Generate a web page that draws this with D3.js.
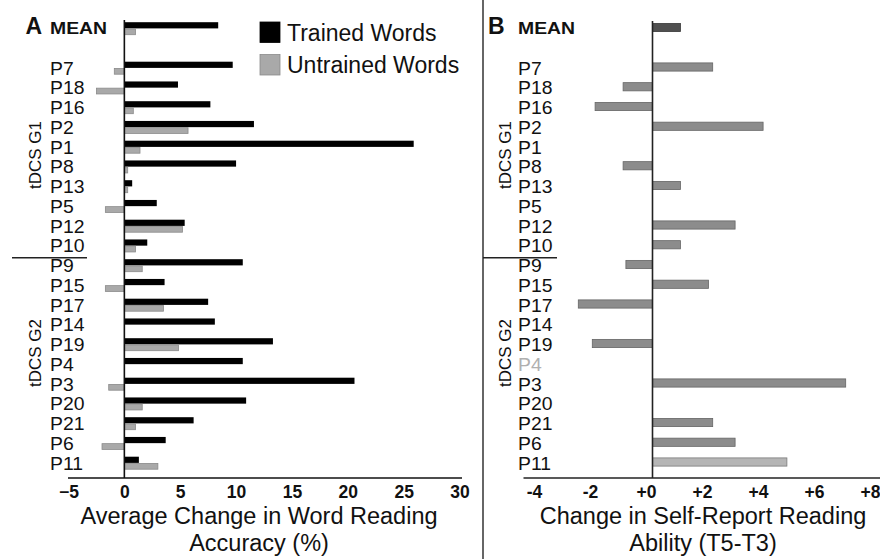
<!DOCTYPE html>
<html>
<head>
<meta charset="utf-8">
<script src="https://cdn.jsdelivr.net/npm/d3@7"></script>
<style>
  html, body { margin: 0; padding: 0; background: #fff; }
  svg { display: block; font-family: "Liberation Sans", Arial, sans-serif; }
</style>
</head>
<body>
<svg id="chart" width="880" height="559"></svg>
<script>
// ---------------- DATA ----------------
const participants = ["P7","P18","P16","P2","P1","P8","P13","P5","P12","P10",
                      "P9","P15","P17","P14","P19","P4","P3","P20","P21","P6","P11"];
const groups = [
  { name: "tDCS G1", anchor: "P1", offset: 14.5 },
  { name: "tDCS G2", anchor: "P19", offset: 15 }
];
const trainedWords   = [9.7, 4.8, 7.7, 11.6, 25.9, 10.0, 0.7, 2.9, 5.4, 2.05,
                        10.6, 3.6, 7.5, 8.1, 13.3, 10.6, 20.6, 10.9, 6.2, 3.7, 1.3];
const untrainedWords = [-0.9, -2.5, 0.8, 5.7, 1.4, 0.3, 0.3, -1.7, 5.2, 1.0,
                        1.6, -1.7, 3.5, 0, 4.85, 0, -1.4, 1.6, 1.0, -2.0, 3.0];
const meanTrained = 8.4;
const meanUntrained = 1.0;
const selfReport = [2.15, -1.05, -2.05, 3.95, 0, -1.05, 1.0, 0, 2.95, 1.0,
                    -0.95, 2.0, -2.65, 0, -2.15, null, 6.9, 0, 2.15, 2.95, 4.8];
const meanSelfReport = 1.0;
const missingSelfReport = ["P4"];
const ticksA = [-5, 0, 5, 10, 15, 20, 25, 30];
const ticksB = [-4, -2, 0, 2, 4, 6, 8];
const tickLabelsB = ["-4", "-2", "+0", "+2", "+4", "+6", "+8"];
const legendLabels = ["Trained Words", "Untrained Words"];
const titleA = ["Average Change in Word Reading", "Accuracy (%)"];
const titleB = ["Change in Self-Report Reading", "Ability (T5-T3)"];

// ---------------- LAYOUT ----------------
const svg = d3.select("#chart");
const rows = ["MEAN", "gap"].concat(participants);
const y = d3.scaleBand().domain(rows).range([22, 476.25]).paddingInner(0).paddingOuter(0);
const sub = d3.scaleBand().domain(["trained", "untrained"]).range([0.2, 13]);

const xA = d3.scaleLinear().domain([-5, 30]).range([68.5, 459.5]);
const xB = d3.scaleLinear().domain([-4, 8]).range([652.5 - 4 * 28.0, 652.5 + 8 * 28.0]);
const axisY = 478;

const BLACK = "#000000", GRAY = "#a9a9a9", GRAY_STROKE = "#8a8a8a";
const FONT_LBL = 17.6;
const LBL_STRETCH = 1.1;
const FONT_TICK = 17.5;
const FONT_TITLE = 23.5;

function rowLabels(g, x0, colorFn) {
  g.selectAll("text.lbl").data(participants).join("text")
    .attr("class", "lbl")
    .attr("transform", d => `translate(${x0},${y(d) + 7}) scale(${LBL_STRETCH},1)`)
    .attr("dominant-baseline", "central")
    .attr("font-size", FONT_LBL)
    .attr("fill", colorFn)
    .text(d => d);
}

// ---------------- PANEL A ----------------
const gA = svg.append("g");

const rowsA = participants.map((p, i) => ({ key: p, t: trainedWords[i], u: untrainedWords[i] }));
rowsA.unshift({ key: "MEAN", t: meanTrained, u: meanUntrained });

gA.selectAll("rect.t").data(rowsA).join("rect")
  .attr("class", "t")
  .attr("x", d => xA(Math.min(0, d.t)))
  .attr("width", d => Math.abs(xA(d.t) - xA(0)))
  .attr("y", d => y(d.key) + sub("trained"))
  .attr("height", sub.bandwidth() - 0.2)
  .attr("fill", BLACK);

gA.selectAll("rect.u").data(rowsA.filter(d => d.u !== 0)).join("rect")
  .attr("class", "u")
  .attr("x", d => xA(Math.min(0, d.u)))
  .attr("width", d => Math.abs(xA(d.u) - xA(0)))
  .attr("y", d => y(d.key) + sub("untrained") + 0.3)
  .attr("height", sub.bandwidth() - 0.6)
  .attr("fill", GRAY)
  .attr("stroke", GRAY_STROKE)
  .attr("stroke-width", 0.8);

gA.append("line")
  .attr("x1", xA(0)).attr("x2", xA(0))
  .attr("y1", y("MEAN") - 2).attr("y2", axisY)
  .attr("stroke", "#111").attr("stroke-width", 1.6);

const axA = gA.append("g").attr("transform", `translate(0,${axisY})`)
  .call(d3.axisBottom(xA).tickValues(ticksA).tickSize(0).tickPadding(8).tickFormat(d3.format("d")));
axA.select(".domain").attr("stroke", "#111").attr("stroke-width", 1.6)
  .attr("d", `M${xA.range()[0] - 0.5},0H${xA.range()[1] + 2.5}`);
axA.selectAll("text").attr("font-size", FONT_TICK).attr("font-weight", "bold")
  .attr("fill", "#111").attr("font-family", "Liberation Sans, Arial, sans-serif");

rowLabels(gA, 50, () => "#111");

gA.append("text").attr("x", 25.5).attr("y", 33.5).attr("font-size", 23).attr("font-weight", "bold")
  .attr("fill", "#111").text("A");
gA.append("text").attr("x", 50).attr("y", 33.5).attr("font-size", 16).attr("font-weight", "bold")
  .attr("fill", "#111").attr("textLength", 57).attr("lengthAdjust", "spacingAndGlyphs").text("MEAN");

groups.forEach(g => {
  const cy = y(g.anchor) + g.offset;
  gA.append("text")
    .attr("transform", `translate(35,${cy}) rotate(-90)`)
    .attr("text-anchor", "middle").attr("dominant-baseline", "central")
    .attr("font-size", 17).attr("fill", "#111").text(g.name);
});
gA.append("line").attr("x1", 12).attr("x2", 87)
  .attr("y1", y("P9") - 1.2).attr("y2", y("P9") - 1.2)
  .attr("stroke", "#222").attr("stroke-width", 1.4);

const leg = gA.append("g");
legendLabels.forEach((lab, i) => {
  leg.append("rect").attr("x", 260).attr("y", 22 + i * 32.5).attr("width", 20).attr("height", 20.5)
    .attr("fill", i === 0 ? BLACK : GRAY).attr("stroke", i === 0 ? BLACK : GRAY_STROKE).attr("stroke-width", 0.8);
  leg.append("text").attr("x", 287).attr("y", 32.5 + i * 32.5).attr("dominant-baseline", "central")
    .attr("font-size", 23).attr("fill", "#111").text(lab);
});

titleA.forEach((t, i) => {
  gA.append("text").attr("x", 259).attr("y", 524 + i * 26.5).attr("text-anchor", "middle")
    .attr("font-size", FONT_TITLE).attr("fill", "#111").text(t);
});

// ---------------- PANEL B ----------------
const gB = svg.append("g");

gB.append("line").attr("x1", 483).attr("x2", 483).attr("y1", 0).attr("y2", 559)
  .attr("stroke", "#333").attr("stroke-width", 1.5);

const rowsB = participants.map((p, i) => ({ key: p, v: selfReport[i], type: p === "P11" ? "light" : "normal" }));
rowsB.unshift({ key: "MEAN", v: meanSelfReport, type: "mean" });
const fillB = { mean: "#505050", normal: "#8c8c8c", light: "#b5b5b5" };
const strokeB = { mean: "#3a3a3a", normal: "#666666", light: "#7a7a7a" };

gB.selectAll("rect.b").data(rowsB.filter(d => d.v !== null && d.v !== 0)).join("rect")
  .attr("class", "b")
  .attr("x", d => xB(Math.min(0, d.v)))
  .attr("width", d => Math.abs(xB(d.v) - xB(0)))
  .attr("y", d => y(d.key) + 1.4)
  .attr("height", 8.2)
  .attr("fill", d => fillB[d.type])
  .attr("stroke", d => strokeB[d.type])
  .attr("stroke-width", 0.8);

gB.append("line")
  .attr("x1", xB(0)).attr("x2", xB(0))
  .attr("y1", y("MEAN") - 1).attr("y2", axisY)
  .attr("stroke", "#222").attr("stroke-width", 1.6);

const axB = gB.append("g").attr("transform", `translate(0,${axisY})`)
  .call(d3.axisBottom(xB).tickValues(ticksB).tickSize(0).tickPadding(8)
    .tickFormat((d, i) => tickLabelsB[i]));
axB.select(".domain").attr("stroke", "#222").attr("stroke-width", 1.6)
  .attr("d", `M${xB.range()[0] - 17},0H880`);
axB.selectAll("text").attr("font-size", FONT_TICK).attr("font-weight", "bold").attr("dx", -6.5)
  .attr("fill", "#111").attr("font-family", "Liberation Sans, Arial, sans-serif");

rowLabels(gB, 518, d => missingSelfReport.includes(d) ? "#b0b0b0" : "#111");

gB.append("text").attr("x", 488).attr("y", 33.5).attr("font-size", 23).attr("font-weight", "bold")
  .attr("fill", "#111").text("B");
gB.append("text").attr("x", 518).attr("y", 33.5).attr("font-size", 16).attr("font-weight", "bold")
  .attr("fill", "#111").attr("textLength", 57).attr("lengthAdjust", "spacingAndGlyphs").text("MEAN");

groups.forEach(g => {
  const cy = y(g.anchor) + g.offset;
  gB.append("text")
    .attr("transform", `translate(505,${cy}) rotate(-90)`)
    .attr("text-anchor", "middle").attr("dominant-baseline", "central")
    .attr("font-size", 17).attr("fill", "#111").text(g.name);
});
gB.append("line").attr("x1", 483).attr("x2", 557)
  .attr("y1", y("P9") - 1.2).attr("y2", y("P9") - 1.2)
  .attr("stroke", "#222").attr("stroke-width", 1.4);

titleB.forEach((t, i) => {
  gB.append("text").attr("x", 703).attr("y", 524 + i * 26.5).attr("text-anchor", "middle")
    .attr("font-size", FONT_TITLE).attr("fill", "#111").text(t);
});
</script>
</body>
</html>
